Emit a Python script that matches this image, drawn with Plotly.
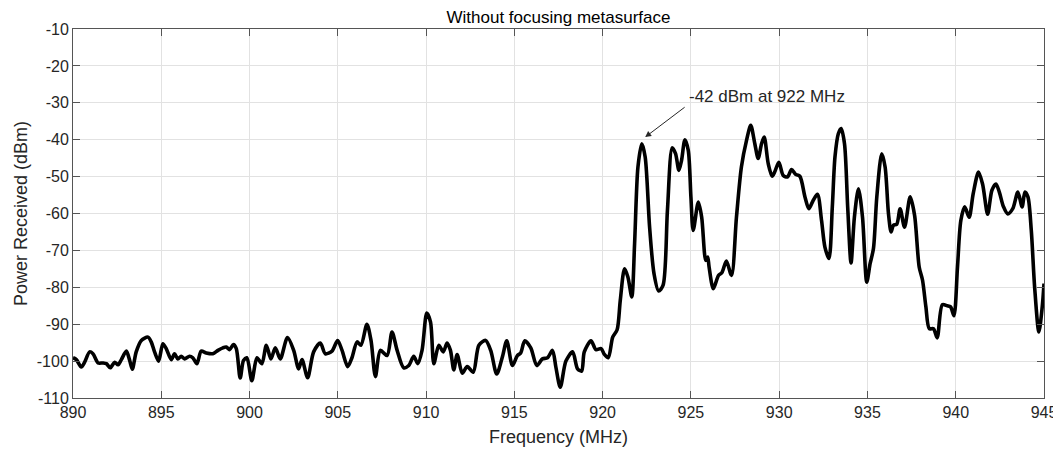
import plotly.graph_objects as go

freq_mhz = [
    890.00, 890.19, 890.47, 890.66, 890.94, 891.13, 891.42, 891.70, 891.89, 892.11,
    892.36, 892.55, 892.74, 893.02, 893.21, 893.36, 893.58, 893.87, 894.25, 894.43,
    894.62, 894.85, 895.09, 895.28, 895.57, 895.75, 895.94, 896.13, 896.32, 896.60,
    896.79, 897.02, 897.26, 897.55, 897.92, 898.21, 898.49, 898.68, 898.87, 899.09,
    899.25, 899.47, 899.66, 899.85, 900.13, 900.42, 900.70, 900.95, 901.21, 901.46,
    901.74, 902.15, 902.50, 902.78, 902.97, 903.29, 903.63, 904.01, 904.29, 904.67,
    904.99, 905.24, 905.56, 905.80, 906.09, 906.31, 906.65, 906.88, 907.13, 907.41,
    907.79, 908.07, 908.36, 908.73, 909.02, 909.30, 909.53, 909.77, 910.04, 910.25,
    910.44, 910.72, 910.97, 911.19, 911.38, 911.57, 911.76, 912.05, 912.33, 912.67,
    912.99, 913.37, 913.66, 914.00, 914.32, 914.57, 914.89, 915.17, 915.36, 915.59,
    915.93, 916.27, 916.59, 916.88, 917.16, 917.35, 917.60, 917.92, 918.30, 918.58,
    918.81, 918.96, 919.34, 919.62, 919.91, 920.10, 920.32, 920.57, 920.82, 921.00,
    921.24, 921.43, 921.65, 921.81, 922.00, 922.22, 922.41, 922.66, 922.91, 923.17,
    923.42, 923.67, 923.94, 924.13, 924.32, 924.47, 924.66, 924.85, 925.00, 925.13,
    925.42, 925.61, 925.84, 925.95, 926.03, 926.27, 926.56, 926.76, 927.01, 927.30,
    927.58, 927.86, 928.15, 928.39, 928.62, 928.81, 929.00, 929.15, 929.38, 929.60,
    929.75, 929.98, 930.23, 930.47, 930.70, 930.93, 931.17, 931.46, 931.68, 931.93,
    932.17, 932.40, 932.59, 932.82, 933.01, 933.16, 933.35, 933.51, 933.70, 933.88,
    934.07, 934.26, 934.49, 934.72, 934.96, 935.15, 935.34, 935.53, 935.81, 936.00,
    936.19, 936.34, 936.47, 936.66, 936.85, 937.10, 937.42, 937.67, 937.93, 938.12,
    938.31, 938.50, 938.74, 938.95, 939.24, 939.52, 939.71, 939.90, 940.10, 940.29,
    940.51, 940.76, 940.99, 941.29, 941.52, 941.81, 942.05, 942.28, 942.47, 942.70,
    942.95, 943.23, 943.52, 943.76, 943.92, 944.09, 944.28, 944.47, 944.71, 944.90,
    945.00,
]

power_dbm = [
    -99.1, -99.6, -101.6, -100.3, -97.5, -98.0, -100.5, -100.5, -100.7, -101.8,
    -100.3, -101.0, -99.6, -97.3, -99.8, -102.2, -97.5, -94.4, -93.5, -94.8,
    -97.5, -100.0, -95.3, -96.6, -99.6, -98.0, -99.4, -98.7, -99.4, -98.7,
    -99.1, -100.7, -97.3, -97.8, -98.0, -97.1, -96.4, -96.2, -96.9, -95.5,
    -96.6, -104.6, -99.8, -99.1, -105.3, -99.1, -100.7, -95.7, -99.4, -96.4,
    -99.4, -93.6, -97.1, -102.1, -99.6, -104.5, -97.5, -95.1, -98.0, -97.3,
    -94.4, -97.1, -101.5, -99.1, -94.8, -95.7, -90.0, -94.4, -104.2, -97.1,
    -98.5, -92.1, -97.1, -101.8, -101.2, -98.7, -100.7, -97.1, -87.0, -89.4,
    -100.7, -95.7, -97.5, -95.1, -97.1, -102.4, -98.2, -103.3, -101.5, -103.0,
    -95.7, -94.4, -97.1, -103.5, -98.9, -94.5, -101.2, -98.5, -97.8, -94.5,
    -96.4, -101.2, -99.4, -99.1, -97.1, -101.6, -107.1, -100.0, -97.5, -102.1,
    -102.7, -97.5, -94.5, -96.9, -96.6, -98.2, -99.1, -93.5, -91.5, -83.5,
    -75.0, -77.2, -82.6, -68.2, -47.4, -41.1, -44.7, -63.7, -76.3, -81.0,
    -79.5, -59.2, -42.2, -43.8, -48.3, -45.6, -40.0, -42.9, -55.5, -64.6,
    -56.9, -61.0, -72.7, -71.8, -74.5, -80.4, -76.8, -76.0, -72.9, -76.8,
    -61.0, -47.4, -40.2, -36.1, -41.1, -45.1, -41.1, -39.3, -46.5, -49.9,
    -48.7, -46.1, -49.7, -50.1, -48.1, -49.4, -49.9, -55.5, -58.7, -56.4,
    -54.8, -61.9, -69.1, -72.2, -58.2, -44.7, -38.4, -37.0, -41.1, -58.2,
    -73.4, -61.0, -53.3, -61.0, -78.6, -73.6, -69.5, -55.5, -43.8, -47.4,
    -60.0, -65.0, -63.2, -62.9, -58.7, -63.7, -55.5, -60.5, -74.5, -78.1,
    -85.3, -91.2, -91.2, -93.7, -84.7, -85.0, -85.3, -87.7, -74.5, -61.9,
    -58.2, -61.0, -54.6, -48.8, -52.0, -60.2, -53.7, -52.0, -54.2, -58.1,
    -60.1, -58.7, -54.2, -58.2, -54.2, -55.5, -64.6, -80.0, -92.1, -85.3,
    -79.0,
]

x_ticks = [890, 895, 900, 905, 910, 915, 920, 925, 930, 935, 940, 945]
y_ticks = [-10, -20, -30, -40, -50, -60, -70, -80, -90, -100, -110]

title_text = "Without focusing metasurface"
x_label = "Frequency (MHz)"
y_label = "Power Received (dBm)"
note_text = "-42 dBm at 922 MHz"
note_head = (922.41, -39.3)
note_tail = (924.73, -30.9)
note_pos = (924.80, -28.4)

FONT = "Liberation Sans, Arial, sans-serif"
AXC = "#262626"

fig = go.Figure()
fig.add_trace(go.Scatter(
    x=freq_mhz, y=power_dbm, mode="lines",
    line=dict(color="black", width=3.6, shape="spline", smoothing=0.8),
    showlegend=False, hoverinfo="skip",
))

fig.add_annotation(
    x=note_head[0], y=note_head[1], xref="x", yref="y",
    ax=note_tail[0], ay=note_tail[1], axref="x", ayref="y",
    text="", showarrow=True, arrowhead=2, arrowsize=1.2, arrowwidth=1,
    arrowcolor=AXC,
)
fig.add_annotation(
    x=note_pos[0], y=note_pos[1], xref="x", yref="y",
    text=note_text, showarrow=False, xanchor="left", yanchor="middle",
    font=dict(family=FONT, size=17, color=AXC),
)

axis_common = dict(
    showline=True, linecolor="#555555", linewidth=1, mirror="ticks",
    ticks="inside", ticklen=7, tickcolor="#555555", tickwidth=1,
    showgrid=True, gridcolor="#e2e2e2", gridwidth=1, zeroline=False,
    tickfont=dict(family=FONT, size=16, color=AXC),
    automargin=False,
)

fig.update_xaxes(
    range=[890, 945], tickvals=x_ticks, ticktext=[str(v) for v in x_ticks],
    title=dict(text=x_label, font=dict(family=FONT, size=18, color=AXC), standoff=10),
    **axis_common,
)
fig.update_yaxes(
    range=[-110, -10], tickvals=y_ticks, ticktext=[str(v) for v in y_ticks],
    title=dict(text=y_label, font=dict(family=FONT, size=18, color=AXC), standoff=4),
    **axis_common,
)

# page body adds an 8 px offset; figure is sized so the plot lands where the reference has it
fig.update_layout(
    width=1053, height=444,
    margin=dict(l=65, r=17, t=21, b=54, autoexpand=False),
    paper_bgcolor="white", plot_bgcolor="white",
    title=dict(text=title_text, x=0.5, xref="paper", xanchor="center",
               y=1, yref="paper", yanchor="bottom", pad=dict(b=6),
               automargin=False,
               font=dict(family=FONT, size=17, color="black")),
)

fig.write_html("out.html")
